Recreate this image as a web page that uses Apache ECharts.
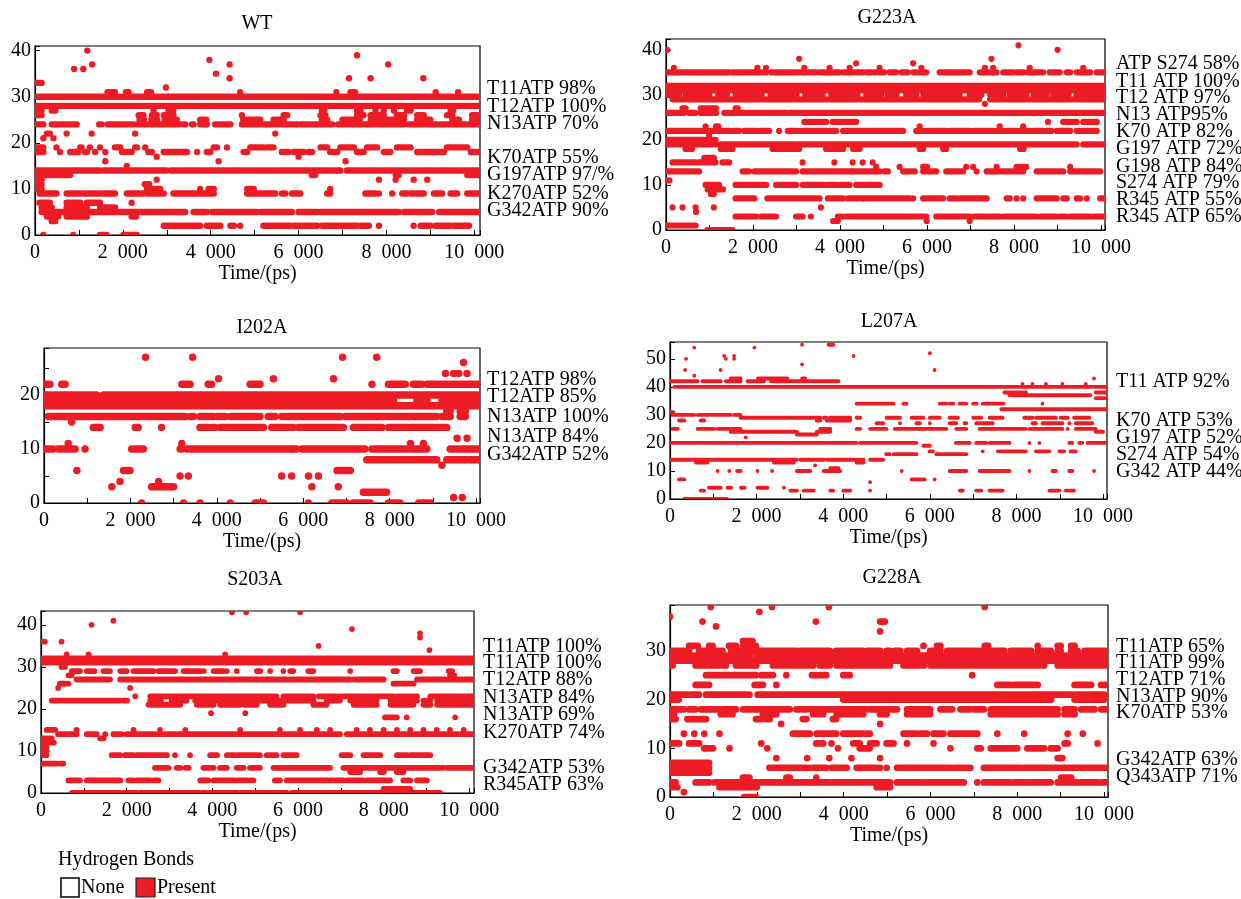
<!DOCTYPE html>
<html>
<head>
<meta charset="utf-8">
<script src="https://cdn.jsdelivr.net/npm/echarts@6/dist/echarts.min.js"></script>
<style>
html,body{margin:0;padding:0;background:#fff;}
#chart{width:1241px;height:899px;}
</style>
</head>
<body>
<div id="chart"></div>
<script>
// ---------------- DATA (time in ps; each row: [bond index, [start,end, start,end, ...]]) ----------------
const xTickLabels = [0, 2000, 4000, 6000, 8000, 10000];

const wtTitle = 'WT';
const wtLabels = ['T11ATP 98%', 'T12ATP 100%', 'N13ATP 70%', 'K70ATP 55%', 'G197ATP 97/%', 'K270ATP 52%', 'G342ATP 90%'];
const wtRows = [
  [40, [1190,1190]],
  [39, [7330,7330]],
  [38, [3970,3970]],
  [37, [1300,1300, 4430,4430, 8040,8040]],
  [36, [890,890, 1100,1100]],
  [35, [4120,4120]],
  [34, [4430,4430, 7150,7150, 7640,7640, 8840,8840]],
  [33, [0,150]],
  [32, [2980,2980]],
  [31, [1650,1820, 2070,2130, 2550,2640, 4670,4670, 6860,6860, 7180,7290, 9120,9120, 9630,9630]],
  [30, [0,10200]],
  [28, [0,10200]],
  [27, [0,150, 380,460, 2700,2700, 3040,3150, 6530,6590, 7330,7410, 7750,7750, 7940,7940, 8170,8170, 8470,8550, 9460,9520]],
  [26, [40,150, 2360,2470, 2660,2770, 2930,3150, 4710,4710, 5660,5740, 6500,6610, 7330,7480, 7640,7940, 8240,8400, 8700,8850, 9380,9500, 9950,10070]],
  [25, [2380,2480, 2650,2780, 2950,3230, 3760,3900, 4740,5130, 5430,5660, 6530,6650, 7000,7400, 7640,8400, 8700,9000, 9500,9650, 9950,10200]],
  [24, [0,190, 380,950, 1460,1520, 1650,2240, 2320,3270, 3340,3420, 3570,3610, 3760,3910, 4100,4450, 4710,5980, 6050,6770, 6900,8400, 8500,10200]],
  [22, [270,340, 720,720, 1290,1290, 2280,2280, 5470,5470]],
  [21, [190,190, 420,420]],
  [19, [0,190, 490,490, 1030,1060, 1250,1250, 1480,1480, 1820,1940, 2280,2320, 2510,2510, 4070,4140, 4370,4370, 4900,5200, 5280,5430, 6500,6650, 6950,7260, 7560,7790, 8240,8550, 9380,9840]],
  [18, [0,190, 570,570, 800,990, 1140,1180, 1370,1370, 1600,1600, 1980,2200, 2580,2660, 2930,3460, 3690,3690, 3910,3990, 4750,4830, 5620,5770, 5890,6120, 6230,6310, 6720,6880, 7330,7480, 7940,8090, 8700,9310, 9920,10200]],
  [17, [2770,2770, 6000,6000]],
  [16, [1600,1600, 4180,4180, 7070,7070]],
  [15, [2090,2090]],
  [14, [0,1480, 1560,2990, 3080,6950, 7100,10200]],
  [13, [0,800, 6300,6380, 8210,8280, 9840,10200]],
  [12, [0,150, 2770,2770, 7830,7830, 8210,8210, 8620,8620, 8930,8930]],
  [11, [0,150, 2500,2600]],
  [10, [0,150, 2550,2850, 3760,3760, 3950,4070, 4830,4980, 6720,6720]],
  [9, [110,490, 720,1030, 1100,1410, 1480,1820, 2090,2470, 2550,2930, 3150,3690, 3760,4070, 4830,5470, 5620,5700, 5850,6040, 6650,6720, 7520,7750, 7830,7830, 8130,8130, 8360,8470, 8550,8850, 9080,9270, 9460,9610, 9840,10200]],
  [7, [100,340, 720,1030, 1180,1480, 2200,2200]],
  [6, [150,380, 720,1180, 1480,1820]],
  [5, [150,3420, 3610,3910, 4030,5050, 5130,5850, 6000,6420, 6500,8280, 8400,9040, 9200,10200]],
  [4, [270,530, 720,1180, 2200,2300]],
  [3, [380,460]],
  [2, [2930,3760, 3910,4220, 4450,4530, 4670,4670, 5200,5810, 5890,6420, 6530,6650, 6690,6880, 6950,7330, 7410,7600, 7830,7830, 8620,8620, 8780,9000, 9120,9460, 9540,9880]],
  [0, [190,190, 870,870, 1480,1630, 2010,2320]]
];

const g223aTitle = 'G223A';
const g223aLabels = ['ATP S274 58%', 'T11 ATP 100%', 'T12 ATP 97%', 'N13 ATP95%', 'K70 ATP 82%', 'G197 ATP 72%', 'G198 ATP 84%', 'S274 ATP 79%', 'R345 ATP 55%', 'R345 ATP 65%'];
const g223aRows = [
  [41, [8100,8100]],
  [40, [30,30, 9000,9000]],
  [38, [3060,3060, 7480,7480]],
  [37, [4370,4370, 5680,5680]],
  [36, [180,180, 2100,2100, 2300,2300, 3180,3180, 3760,3760, 4220,4220, 4910,4910, 5870,5870, 7330,7330, 7520,7520, 8360,8360, 9590,9590]],
  [35, [0,1450, 1530,2030, 2070,2300, 2410,2990, 3060,3220, 3300,3450, 3530,3990, 4070,4250, 4290,4520, 4600,4830, 4910,5020, 5140,5290, 5410,5560, 5680,5750, 5830,5980, 6290,6520, 6560,6980, 7210,7370, 7440,7600, 7750,7980, 8060,8210, 8290,8670, 8820,9050, 9210,9290, 9440,9750, 9900,10050]],
  [32, [0,10200]],
  [31, [0,10200]],
  [30, [0,300, 450,1000, 1200,1400, 1600,2200, 2400,3000, 3200,3600, 3800,4400, 4600,4950, 5100,5300, 5520,5750, 5920,6200, 6320,6750, 6980,7250, 7450,7750, 7900,8280, 8450,8750, 8900,9250, 9430,10200]],
  [29, [150,7200, 7450,10200]],
  [28, [7330,7330]],
  [27, [380,450, 800,950, 1000,1150, 1600,1650]],
  [26, [0,410, 530,680, 800,950, 1000,1150, 1340,2760, 2830,10200]],
  [24, [3180,3680, 3830,4370, 8780,8780, 9130,9440, 9590,9900]],
  [23, [910,910, 1150,1200, 5830,5830, 7670,7670, 8210,8210]],
  [22, [0,990, 1030,1220, 1300,1450, 1530,1680, 1800,2070, 2140,2370, 2600,2600, 2800,2990, 3060,3680, 3760,3910, 4070,4520, 4560,5450, 5750,5910, 5990,6440, 6520,6980, 7060,7250, 7290,7520, 7600,7750, 7830,8060, 8130,8290, 8370,8670, 8750,8860, 8980,9290, 9440,9900]],
  [21, [990,990]],
  [20, [0,1140]],
  [19, [0,1140, 1250,9440, 9590,9900, 9980,10200]],
  [18, [450,600, 1260,1530, 2450,3060, 3680,4070, 4300,4450, 5830,5910, 6370,6440, 8140,8220]],
  [16, [880,1100]],
  [15, [150,680, 760,990, 1070,1140, 1300,1450, 3140,3140, 3870,3870, 4290,4290, 4520,4520, 4750,4750]],
  [14, [4830,4830, 5370,5370, 5910,6000, 6900,6900, 7060,7060, 7600,7600, 8060,8210, 8280,8280, 9290,9290]],
  [13, [0,760, 1760,1910, 2030,2990, 3140,4250, 4290,4910, 5020,5100, 5450,5720, 5910,6210, 6440,6830, 7140,7140, 7370,7980, 8060,8210, 8520,9130, 9290,9980]],
  [11, [0,80]],
  [10, [910,1220, 1600,2300, 2530,2990, 3140,3600, 3680,3910, 3990,4220, 4370,4910, 4720,4720]],
  [9, [960,1310]],
  [8, [1030,1100]],
  [7, [1600,2030, 2330,3530, 3720,4070, 4180,4520, 4560,5600, 5680,5680, 5910,6370, 6520,6670, 6750,7370, 7830,7900, 8060,8060, 8210,8210, 8520,8980, 9130,9210, 9440,9520, 9670,9670, 9980,10200]],
  [5, [150,150, 380,380, 680,680, 1100,1100, 3560,3560]],
  [4, [690,690]],
  [3, [1600,2070, 2180,2300, 2370,2530, 2990,3140, 3330,3330, 3950,4060, 4140,5980, 6210,6980, 7060,7670, 7750,8520, 8600,8980, 9060,9210, 9290,9750, 9830,10200]],
  [2, [3840,3950, 5990,5990, 6980,6980]],
  [1, [0,680]],
  [0, [950,1100, 1140,1530]]
];

const i202aTitle = 'I202A';
const i202aLabels = ['T12ATP 98%', 'T12ATP 85%', 'N13ATP 100%', 'N13ATP 84%', 'G342ATP 52%'];
const i202aRows = [
  [27, [2350,2350, 3440,3440, 6910,6910, 7700,7700]],
  [26, [9710,9710]],
  [24, [9290,9290, 9480,9480, 9600,9600, 9790,9790]],
  [23, [4040,4040, 5310,5310, 6700,6700]],
  [22, [0,140, 410,490, 3190,3380, 3800,3880, 4770,5000, 7590,7590, 7970,8360, 8550,8740, 8860,10200]],
  [20, [0,1220, 1370,10200]],
  [19, [0,2130, 2170,3760, 3850,7200, 7220,8090, 8630,8860, 9210,10200]],
  [18, [0,10200]],
  [17, [9320,9400, 9630,9750]],
  [16, [100,3270, 3380,3460, 3610,3920, 4000,4190, 4310,5000, 5190,5350, 5500,6850, 6970,9090, 9210,9400, 9630,9750]],
  [15, [640,640]],
  [14, [1140,1300, 2110,2180, 2720,2720, 3610,3800, 3880,3960, 4080,5080, 5270,5770, 5890,6890, 6930,6930, 7160,7820, 7970,8400, 8480,9320]],
  [12, [9560,9560, 9790,9790]],
  [11, [560,560, 3190,3190, 8480,8480, 8780,8780]],
  [10, [0,220, 330,720, 950,950, 2030,2300, 3150,3190, 3300,5740, 5770,5850, 5970,7430, 7590,8400, 8480,8860, 9400,10200]],
  [8, [7470,9090, 9320,9790, 9860,10200]],
  [7, [9210,9210]],
  [6, [760,760, 1840,1990, 6780,7090]],
  [5, [3150,3150, 3340,3340, 5500,5500, 5730,5730, 6120,6120, 6350,6350]],
  [4, [1760,1760, 2650,2650]],
  [3, [1570,1570, 2490,3000, 6200,6200, 6810,6810]],
  [2, [7390,7930]],
  [1, [9480,9480, 9680,9680]],
  [0, [2260,2260, 3230,3230, 3610,3610, 4310,4310, 4890,5080, 6120,6120, 6660,7010, 7160,7550, 7970,8240, 8670,8940]]
];

const l207aTitle = 'L207A';
const l207aLabels = ['T11 ATP 92%', 'K70 ATP 53%', 'G197 ATP 52%', 'S274 ATP 54%', 'G342 ATP 44%'];
const l207aRows = [
  [55, [3050,3050, 3660,3770]],
  [54, [560,560, 1950,1950]],
  [52, [6000,6000]],
  [51, [1250,1250, 1480,1480, 4240,4240]],
  [50, [370,370, 1290,1290, 1480,1480]],
  [48, [3050,3050]],
  [46, [350,350, 1170,1170, 6110,6110]],
  [44, [560,560]],
  [43, [1400,1630, 2030,2710, 3050,3120, 9790,9790]],
  [42, [0,640, 750,1170, 1290,1630, 1790,2170, 2330,2600, 2630,3890]],
  [41, [8140,8140, 8370,8370, 8680,8680, 9060,9060, 9600,9600]],
  [40, [100,10200]],
  [38, [7720,8220, 9830,10200]],
  [37, [7840,9710]],
  [36, [9830,10200]],
  [34, [4310,5160, 5390,5460, 6230,6380, 6460,6540, 6690,6840, 7000,7080, 7220,7700, 8600,8600]],
  [32, [7650,10200]],
  [31, [0,80]],
  [30, [60,560, 640,1400, 1480,1630]],
  [29, [1630,3470, 3550,3620, 3700,4160, 4310,4390, 5000,5310, 5580,5850, 6000,6230, 6460,6650, 7000,7190, 7380,7680, 8180,8370, 8450,8910, 9020,9180, 9330,9680]],
  [28, [210,330, 710,790, 3390,3470, 3620,4160]],
  [27, [4770,4920, 5310,5310, 5690,5770, 6000,6000, 6460,6610, 6800,6840, 7070,7450, 8370,8450, 8600,9060, 9220,9220, 9370,9750]],
  [25, [60,180, 640,1020, 1100,1630, 3470,3700, 4310,4390, 4620,5000, 5190,6380, 6610,6840, 7150,8220, 8300,9060, 9180,9180, 9370,9830]],
  [24, [1400,2930, 3390,3700, 9830,10000]],
  [23, [2930,3390]],
  [22, [1750,1750]],
  [20, [0,4310, 4390,5690, 6600,6760, 6800,6920, 7070,7300, 7380,7840, 8300,8300, 8530,8530, 9220,9290, 9450,9520, 9640,10200]],
  [19, [5850,6000]],
  [17, [5990,6070, 7220,7220, 7570,8220, 8450,8760, 8990,9100, 9250,9370]],
  [16, [4990,5070, 5160,5690, 6150,6840]],
  [14, [0,2930, 3010,3550, 3620,4470, 4620,4920]],
  [13, [600,870, 2400,2860, 4310,4470]],
  [12, [3350,3350]],
  [11, [3700,3890]],
  [10, [1100,1100, 1370,1370, 1550,1630, 2020,2020, 2360,2360, 2930,3240, 3550,3930, 5350,5350, 6460,6840, 7150,7840, 8300,8300, 8830,8910, 9220,9290, 9790,9790]],
  [7, [210,330, 5580,5880, 6110,6110]],
  [6, [4620,4620]],
  [4, [900,1170, 1330,1410, 1640,1720, 2020,2250, 2630,2630]],
  [3, [710,790, 2780,2930, 3090,3320, 3700,3770, 4000,4160, 4620,4620, 6690,6760, 7070,7190, 7380,7680, 8760,8990, 9140,9330]],
  [0, [330,1320]]
];

const s203aTitle = 'S203A';
const s203aLabels = ['T11ATP 100%', 'T11ATP 100%', 'T12ATP 88%', 'N13ATP 84%', 'N13ATP 69%', 'K270ATP 74%', 'G342ATP 53%', 'R345ATP 63%'];
const s203aRows = [
  [43, [4460,4460, 4790,4790, 6050,6050]],
  [41, [1690,1690]],
  [40, [1180,1180]],
  [39, [7260,7260]],
  [38, [8850,8850]],
  [37, [8850,8850]],
  [36, [0,90, 480,480]],
  [35, [6480,6480]],
  [34, [9070,9070]],
  [33, [600,600, 1110,1110, 4300,4300]],
  [32, [0,10200]],
  [31, [0,10200]],
  [30, [480,560]],
  [29, [720,910, 1070,1250, 1460,1610, 1850,2000, 2160,2630, 2740,3130, 3330,3720, 3800,3800, 4030,4260, 4340,4340, 4570,4570, 5040,5120, 5350,5350, 5660,5660, 5820,5890, 6240,6360, 7220,7220, 8230,8310, 8700,8850, 9520,9600]],
  [28, [640,720, 9550,9650]],
  [27, [830,1610, 1850,7220, 7300,8000, 8780,10200]],
  [26, [440,520, 550,640, 8230,8700]],
  [25, [400,400, 2080,2080]],
  [23, [2200,2200, 2550,5500, 5660,6360, 6480,6910, 6980,8230, 8310,8780, 9090,10200]],
  [22, [250,1850, 1930,2010, 2550,2800, 3050,3400, 3600,5580, 5660,6360, 6670,6980, 7220,7840, 8160,8780, 8930,9090, 9250,10200]],
  [21, [2510,3250, 3640,4030, 4180,4650, 4760,5040, 5350,5660, 6360,6670, 7300,7840, 8160,8700, 8930,9090, 9250,10200]],
  [19, [3970,3970, 4770,4770]],
  [18, [8030,8310, 8540,8540, 9670,9670]],
  [15, [130,330, 830,830, 2160,2160, 2780,2780, 3370,3370, 4650,4650, 5580,5580, 6050,6050, 6440,6440, 6750,6750, 7370,7370, 7680,7680, 8000,8000, 8310,8310, 8620,8620, 8930,8930, 9240,9240, 9550,9550, 9870,9870]],
  [14, [400,830, 1070,1300, 1500,1500, 1690,1890, 2000,2630, 2700,6980, 7140,10200]],
  [13, [0,250, 1380,1460]],
  [12, [0,300]],
  [11, [0,130]],
  [10, [0,130]],
  [9, [0,130, 1650,1850, 1960,2160, 2240,2940, 3130,3130, 3480,3480, 3950,4110, 4340,4500, 4570,5110, 5270,5500, 5660,5970, 7020,7220, 7530,7920, 8310,8540, 8620,8780, 8820,9090]],
  [7, [0,370, 450,520]],
  [6, [2660,2980, 3170,3250, 3370,3450, 3790,4030, 4180,4340, 4570,4730, 4880,5110, 5430,6750, 7060,9400, 9480,10200]],
  [5, [7220,7450, 7920,8000, 8310,8460]],
  [3, [640,910, 1070,1850, 2040,2160, 2240,2550, 2630,2740, 3720,3910, 4030,4500, 4570,4810, 4880,4960, 5460,5580, 5740,6670, 6750,7060, 7140,7530, 7610,8150, 8460,8620, 8780,9010]],
  [1, [8000,8620]],
  [0, [720,1850, 1930,2240, 2320,3680, 3760,3840, 3920,4580, 4660,5740, 5850,6600, 6640,9320]]
];

const g228aTitle = 'G228A';
const g228aLabels = ['T11ATP 65%', 'T11ATP 99%', 'T12ATP 71%', 'N13ATP 90%', 'K70ATP 53%', 'G342ATP 63%', 'Q343ATP 71%'];
const g228aRows = [
  [39, [940,940, 2350,2350, 3660,3660, 7250,7250]],
  [38, [2060,2060]],
  [37, [0,0]],
  [36, [750,750, 3360,3360, 4840,4950]],
  [35, [1060,1060]],
  [34, [4840,4840]],
  [32, [1680,1900]],
  [31, [440,640, 900,980, 1360,1520, 1680,1980, 5840,5840, 6150,6230, 7250,7330, 8470,8470, 8930,9000, 9240,9320]],
  [30, [0,440, 670,830, 940,1210, 1410,1490, 1600,1980, 2060,2910, 2990,3680, 3830,4450, 4560,4840, 4990,5070, 5180,5300, 5460,5690, 5990,6230, 6380,7080, 7150,7700, 7850,8320, 8470,8770, 8930,9000, 9240,9390, 9550,10200]],
  [29, [0,1850, 2000,10200]],
  [28, [0,10200]],
  [27, [0,60, 590,1210, 1290,1290, 1520,1910, 1950,1990, 2370,3300, 3450,3680, 3840,5070, 5380,5850, 6000,7700, 7770,8470, 8540,8620, 8930,9240, 9320,10200]],
  [25, [830,1980, 2100,2370, 2680,2680, 3270,3380, 3450,3600, 3990,4140, 6960,6960]],
  [23, [590,900, 1950,2140, 2450,2450, 7540,7850, 7930,8470, 9320,9700, 9930,10200]],
  [21, [0,670, 830,1830, 2020,8780, 8850,9240, 9320,10000]],
  [20, [0,200, 3990,8780, 9320,10000]],
  [18, [0,90, 130,330, 440,590, 710,1130, 1210,1520, 1680,2450, 2530,2760, 2910,3140, 3220,3760, 3840,4000, 4070,4530, 4610,5230, 5460,5990, 6230,6500, 6690,6920, 7000,7230, 7390,8930, 9090,9320, 9470,9780, 9930,10200]],
  [17, [0,90, 1170,1440, 2140,2450, 3300,3530, 3840,4450, 4840,4990, 5460,5990, 7390,8930, 9090,9320]],
  [16, [50,130, 400,830, 1980,2140, 2220,2300, 3060,3140, 3750,3830]],
  [15, [2560,2560, 4840,4840]],
  [13, [320,320, 560,560, 790,790, 1140,1140, 2830,3220, 3380,3830, 3990,4450, 4530,4600, 5380,5690, 5770,5920, 6070,6300, 6460,7080, 7540,7540, 8160,8160, 9160,9160, 9510,9510]],
  [11, [0,210, 440,670, 2100,2100, 3370,3530, 3720,3720, 4220,4370, 4610,4760, 4990,5150, 5460,5460, 6070,6070, 9090,9160, 9850,9850]],
  [10, [790,990, 1370,1370, 2240,2240, 3870,3870, 4370,4600, 6460,6460, 7080,7160, 7390,8000, 8230,8620, 8770,8930]],
  [8, [2450,2450, 3160,3160, 3670,3670, 4180,4180, 4840,4840, 8930,9040]],
  [7, [0,900]],
  [6, [0,900, 2290,3140, 3220,3600, 3720,4070, 4300,4760, 4840,4840, 4990,4990, 5230,6460, 6540,6770, 6840,6920, 7230,8080, 8160,8930, 9010,10200]],
  [5, [0,900]],
  [4, [1680,1830, 2680,2760, 3370,3370, 9010,9240]],
  [3, [0,130, 590,900, 1020,2000, 2070,2530, 2600,2760, 2830,3300, 3370,3680, 3760,4070, 4140,5070, 5230,5840, 5920,6770, 7080,7080, 7230,7850, 7930,8160, 8230,8770, 8930,9390, 9470,9850, 9930,10200]],
  [2, [0,170, 1140,2000, 4760,5070]],
  [1, [320,320]],
  [0, [1710,1980]]
];

const legendTitle = 'Hydrogen Bonds';
const legendItems = ['None', 'Present'];

// ---------------- LAYOUT / STYLE ----------------
const RED = '#ED1C24';
const SERIF = '"Liberation Serif", "Times New Roman", serif';
const FS = 20;
const MARK = 1.38; // mark thickness in row units

const panels = [
  {title: wtTitle, rows: wtRows, labels: wtLabels, grid: {left: 35, top: 46, width: 445, height: 189}, xMax: 10130, yMax: 41, yInt: 10,
   titlePos: [257, 24], labelX: 487, labelY: [89, 107, 124, 158, 175, 194, 211]},
  {title: g223aTitle, rows: g223aRows, labels: g223aLabels, grid: {left: 666, top: 39, width: 439, height: 191}, xMax: 10090, yMax: 42.4, yInt: 10,
   titlePos: [887, 18], labelX: 1116, labelY: [64, 82, 98, 115, 132, 149, 167, 183, 200, 217]},
  {title: i202aTitle, rows: i202aRows, labels: i202aLabels, grid: {left: 44, top: 348, width: 436, height: 155}, xMax: 10090, yMax: 28.7, yInt: 5,
   titlePos: [262, 328], labelX: 487, labelY: [380, 397, 417, 437, 455]},
  {title: l207aTitle, rows: l207aRows, labels: l207aLabels, grid: {left: 670, top: 342, width: 437, height: 157}, xMax: 10090, yMax: 56, yInt: 10,
   titlePos: [889, 322], labelX: 1116, labelY: [382, 421, 438, 455, 472]},
  {title: s203aTitle, rows: s203aRows, labels: s203aLabels, grid: {left: 41, top: 611, width: 433, height: 182}, xMax: 10110, yMax: 43.3, yInt: 10,
   titlePos: [255, 580], labelX: 483, labelY: [647, 663, 680, 698, 715, 733, 768, 785]},
  {title: g228aTitle, rows: g228aRows, labels: g228aLabels, grid: {left: 670, top: 605, width: 438, height: 192}, xMax: 10090, yMax: 39.4, yInt: 10,
   titlePos: [892, 578], labelX: 1116, labelY: [647, 663, 680, 697, 713, 760, 777]}
];

function fmtThousands(v) {
  if (v < 1000) return String(v);
  const s = String(v);
  return s.slice(0, s.length - 3) + '  ' + s.slice(s.length - 3);
}

function renderItem(params, api) {
  const s = api.value(0), e = api.value(1), y = api.value(2);
  const a = api.coord([s, y]);
  const b = api.coord([e, y]);
  const h = Math.abs(api.size([0, 1])[1]) * MARK;
  return {
    type: 'rect',
    shape: {x: a[0] - h / 2, y: a[1] - h / 2, width: b[0] - a[0] + h, height: h, r: h / 2},
    style: {fill: RED}
  };
}

const grids = [], xAxes = [], yAxes = [], series = [], graphics = [];
panels.forEach((p, i) => {
  grids.push(Object.assign({show: true, borderColor: '#000', borderWidth: 1.2, backgroundColor: '#fff'}, p.grid));
  xAxes.push({
    type: 'value', gridIndex: i, min: 0, max: p.xMax, interval: 1000,
    name: 'Time/(ps)', nameLocation: 'middle', nameGap: 28,
    nameTextStyle: {fontFamily: SERIF, fontSize: FS, color: '#000'},
    axisLine: {show: true, lineStyle: {color: '#000', width: 1.2}},
    axisTick: {show: true, inside: true, length: 5, lineStyle: {color: '#000'}},
    splitLine: {show: false},
    axisLabel: {
      fontFamily: SERIF, fontSize: FS, color: '#000', margin: 8,
      formatter: v => (xTickLabels.indexOf(v) >= 0 ? fmtThousands(v) : '')
    }
  });
  yAxes.push({
    type: 'value', gridIndex: i, min: 0, max: p.yMax, interval: p.yInt,
    axisLine: {show: true, lineStyle: {color: '#000', width: 1.2}},
    axisTick: {show: true, inside: true, length: 5, lineStyle: {color: '#000'}},
    splitLine: {show: false},
    axisLabel: {
      fontFamily: SERIF, fontSize: FS, color: '#000', margin: 4,
      formatter: v => (v % 10 === 0 ? String(v) : '')
    }
  });
  const data = [];
  p.rows.forEach(r => {
    const y = r[0], segs = r[1];
    for (let k = 0; k + 1 < segs.length; k += 2) data.push([segs[k], segs[k + 1], y]);
  });
  series.push({
    type: 'custom', xAxisIndex: i, yAxisIndex: i, clip: true,
    renderItem: renderItem, encode: {x: [0, 1], y: 2}, data: data, silent: true
  });
  graphics.push({
    type: 'text', x: p.titlePos[0], y: p.titlePos[1], z: 10,
    style: {text: p.title, font: FS + 'px ' + SERIF, fill: '#000', textAlign: 'center', textVerticalAlign: 'middle', align: 'center', verticalAlign: 'middle'}
  });
  p.labels.forEach((t, k) => {
    graphics.push({
      type: 'text', x: p.labelX, y: p.labelY[k], z: 10,
      style: {text: t, font: FS + 'px ' + SERIF, fill: '#000', textAlign: 'left', textVerticalAlign: 'middle', align: 'left', verticalAlign: 'middle'}
    });
  });
});

// legend
graphics.push({type: 'text', x: 58, y: 860, style: {text: legendTitle, font: FS + 'px ' + SERIF, fill: '#000', textAlign: 'left', textVerticalAlign: 'middle', align: 'left', verticalAlign: 'middle'}});
graphics.push({type: 'rect', shape: {x: 61, y: 878, width: 18, height: 19}, style: {fill: '#fff', stroke: '#000', lineWidth: 1.5}});
graphics.push({type: 'text', x: 81, y: 888, style: {text: legendItems[0], font: FS + 'px ' + SERIF, fill: '#000', textAlign: 'left', textVerticalAlign: 'middle', align: 'left', verticalAlign: 'middle'}});
graphics.push({type: 'rect', shape: {x: 136, y: 878, width: 19, height: 19}, style: {fill: RED, stroke: '#222', lineWidth: 1.2}});
graphics.push({type: 'text', x: 157, y: 888, style: {text: legendItems[1], font: FS + 'px ' + SERIF, fill: '#000', textAlign: 'left', textVerticalAlign: 'middle', align: 'left', verticalAlign: 'middle'}});

const chart = echarts.init(document.getElementById('chart'), null, {renderer: 'canvas'});
chart.setOption({
  backgroundColor: '#fff',
  animation: false,
  grid: grids,
  xAxis: xAxes,
  yAxis: yAxes,
  series: series,
  graphic: {elements: graphics}
});
</script>
</body>
</html>
